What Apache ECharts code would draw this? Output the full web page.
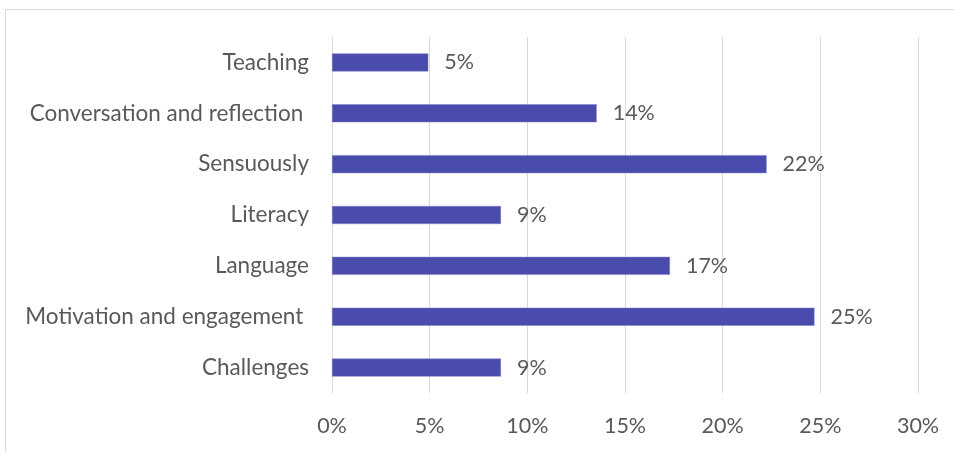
<!DOCTYPE html>
<html>
<head>
<meta charset="utf-8">
<script src="https://cdn.jsdelivr.net/npm/echarts@6/dist/echarts.min.js"></script>
<style>
  html, body { margin: 0; padding: 0; background: #ffffff; }
  #chart { width: 954px; height: 452px; }
</style>
</head>
<body>
<div id="chart"></div>
<script>
// Categories listed bottom-to-top (category axis draws first item at the bottom)
const categories = [
  'Challenges',
  'Motivation and engagement ',
  'Language',
  'Literacy',
  'Sensuously',
  'Conversation and reflection ',
  'Teaching'
];
// Share of responses per theme, in percent
const shares = [8.65, 24.7, 17.3, 8.65, 22.25, 13.55, 4.93];
const xTicks = { min: 0, max: 30, interval: 5 };

const FONT = 'Lato';
const TEXT = '#595959';
const BAR = '#4a4cad';
const SIZE = 21.5;

const chart = echarts.init(document.getElementById('chart'));
chart.setOption({
  animation: false,
  backgroundColor: '#ffffff',
  graphic: [{
    type: 'rect',
    shape: { x: 5.5, y: 9.5, width: 1000, height: 1000 },
    style: { fill: 'none', stroke: '#d9d9d9', lineWidth: 1 },
    silent: true
  }],
  grid: { left: 332, right: 36, top: 37, bottom: 59, containLabel: false },
  xAxis: {
    type: 'value',
    min: xTicks.min,
    max: xTicks.max,
    interval: xTicks.interval,
    axisLine: { show: false },
    axisTick: { show: false },
    splitLine: { lineStyle: { color: '#d9d9d9', width: 1 } },
    axisLabel: {
      formatter: v => v + '%',
      color: TEXT,
      fontFamily: FONT,
      fontSize: SIZE,
      margin: 22
    }
  },
  yAxis: {
    type: 'category',
    data: categories,
    axisLine: { show: false },
    axisTick: { show: false },
    axisLabel: {
      color: TEXT,
      fontFamily: FONT,
      fontSize: 22.5,
      margin: 23
    }
  },
  series: [{
    type: 'bar',
    data: shares,
    barWidth: 18,
    itemStyle: { color: BAR, borderColor: '#7d7fc9', borderWidth: 0.5 },
    label: {
      show: true,
      position: 'right',
      distance: 16,
      formatter: p => Math.round(p.value) + '%',
      color: TEXT,
      fontFamily: FONT,
      fontSize: SIZE
    }
  }]
});
</script>
</body>
</html>
